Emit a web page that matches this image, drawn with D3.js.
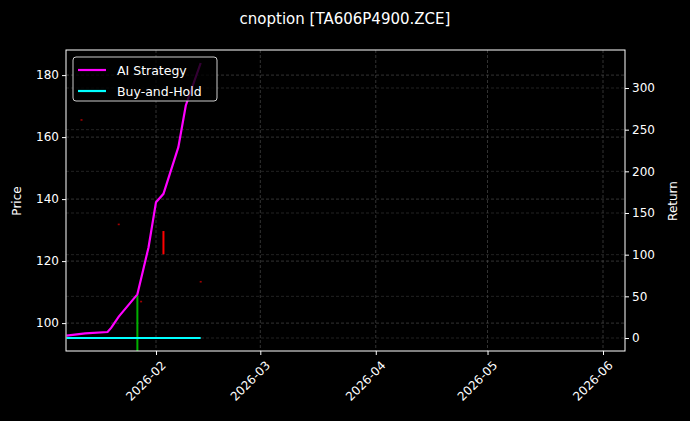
<!DOCTYPE html>
<html><head><meta charset="utf-8">
<script src="https://cdn.jsdelivr.net/npm/d3@7"></script>
<style>body{margin:0;background:#000}svg{display:block;font-family:"DejaVu Sans",sans-serif}</style>
</head><body><svg id="c" width="690" height="421"></svg>
<script>
const title = "cnoption [TA606P4900.ZCE]";
const stratDates = ["2026-01-08","2026-01-13","2026-01-19","2026-01-20","2026-01-22","2026-01-27","2026-01-29","2026-01-30","2026-02-01","2026-02-03","2026-02-07","2026-02-09","2026-02-13"];
const stratReturn = [2.8,5.6,7.2,12.4,25.6,52.4,90,109,163,173,229,279,330];
const holdDates = ["2026-01-08","2026-02-13"];
const holdReturn = [0,0];
// candles: date, open, close
const candleDates = ["2026-01-12","2026-01-22","2026-01-27","2026-01-28","2026-02-03","2026-02-13"];
const candleOpen  = [165.8,132.1,91,107.2,129.7,113.6];
const candleClose = [165.6,131.9,109,107,122.2,113.4];
const priceTicks = [100,120,140,160,180];
const returnTicks = [0,50,100,150,200,250,300];
const monthTicks = ["2026-02-01","2026-03-01","2026-04-01","2026-05-01","2026-06-01"];

const svg = d3.select("#c");
const L=66,R=625,T=50,B=351;
const pd = d3.timeParse("%Y-%m-%d");
const x0 = d3.scaleTime().domain([pd("2026-02-01"),pd("2026-06-01")]).range([156,603]);
const x = d3.scaleTime().domain([x0.invert(L),x0.invert(R)]).range([L,R]);
const yP = d3.scaleLinear().domain([91,188.1]).range([B,T]);
const yR = d3.scaleLinear().domain([-15.6,345.6]).range([B,T]);

const g = svg.append("g");
monthTicks.forEach(d=>g.append("line").attr("x1",x(pd(d))).attr("x2",x(pd(d))).attr("y1",T).attr("y2",B).attr("stroke","#555").attr("stroke-dasharray","3,2").attr("stroke-width",0.6));
priceTicks.forEach(v=>g.append("line").attr("x1",L).attr("x2",R).attr("y1",yP(v)).attr("y2",yP(v)).attr("stroke","#555").attr("stroke-dasharray","3,2").attr("stroke-width",0.6));
returnTicks.forEach(v=>g.append("line").attr("x1",L).attr("x2",R).attr("y1",yR(v)).attr("y2",yR(v)).attr("stroke","#444").attr("stroke-dasharray","3,2").attr("stroke-width",0.5));

candleDates.forEach((d,i)=>{
  const o=candleOpen[i],c=candleClose[i];
  const tiny=Math.abs(o-c)<1;
  g.append("line").attr("x1",x(pd(d))).attr("x2",x(pd(d)))
   .attr("y1",yP(Math.max(o,c))).attr("y2",yP(Math.min(o,c))+(tiny?1:0))
   .attr("stroke",tiny?"#a00000":(c>=o?"#00b000":"red")).attr("stroke-width",2);
});
const line = d3.line().x(d=>x(d[0])).y(d=>yR(d[1]));
g.append("path").attr("d",line(holdDates.map((d,i)=>[pd(d),holdReturn[i]]))).attr("fill","none").attr("stroke","#00ffff").attr("stroke-width",2);
g.append("path").attr("d",line(stratDates.map((d,i)=>[pd(d),stratReturn[i]]))).attr("fill","none").attr("stroke","#ff00ff").attr("stroke-width",2.2);

svg.append("rect").attr("x",L).attr("y",T).attr("width",R-L).attr("height",B-T).attr("fill","none").attr("stroke","#fff").attr("stroke-width",1);

const ax = svg.append("g").attr("transform",`translate(0,${B})`).call(d3.axisBottom(x).tickValues(monthTicks.map(pd)).tickFormat(d3.timeFormat("%Y-%m")).tickSize(4));
ax.selectAll("text").attr("transform","rotate(-45)").attr("text-anchor","end").attr("dx","-0.3em").attr("dy","0.9em").attr("font-size",12);
const al = svg.append("g").attr("transform",`translate(${L},0)`).call(d3.axisLeft(yP).tickValues(priceTicks).tickSize(4));
al.selectAll("text").attr("font-size",12);
const ar = svg.append("g").attr("transform",`translate(${R},0)`).call(d3.axisRight(yR).tickValues(returnTicks).tickSize(4));
ar.selectAll("text").attr("font-size",12);
svg.selectAll(".domain").remove();
svg.selectAll(".tick line").attr("stroke","#fff");
svg.selectAll(".tick text").attr("fill","#fff").attr("font-family","DejaVu Sans");

svg.append("text").attr("x",345).attr("y",24).attr("text-anchor","middle").attr("fill","#fff").attr("font-size",15).text(title);
svg.append("text").attr("transform","translate(21,201) rotate(-90)").attr("text-anchor","middle").attr("fill","#fff").attr("font-size",12).text("Price");
svg.append("text").attr("transform","translate(677,201) rotate(-90)").attr("text-anchor","middle").attr("fill","#fff").attr("font-size",12).text("Return");

const lg = svg.append("g");
lg.append("rect").attr("x",73).attr("y",57).attr("width",144).attr("height",44).attr("rx",3).attr("fill","#000").attr("fill-opacity",0.8).attr("stroke","#ccc");
[["AI Strategy","#ff00ff"],["Buy-and-Hold","#00ffff"]].forEach((s,i)=>{
  const yy=70+i*21;
  lg.append("line").attr("x1",78).attr("x2",106).attr("y1",yy).attr("y2",yy).attr("stroke",s[1]).attr("stroke-width",2.2);
  lg.append("text").attr("x",117).attr("y",yy+4.5).attr("fill","#fff").attr("font-size",12.5).text(s[0]);
});
</script></body></html>
